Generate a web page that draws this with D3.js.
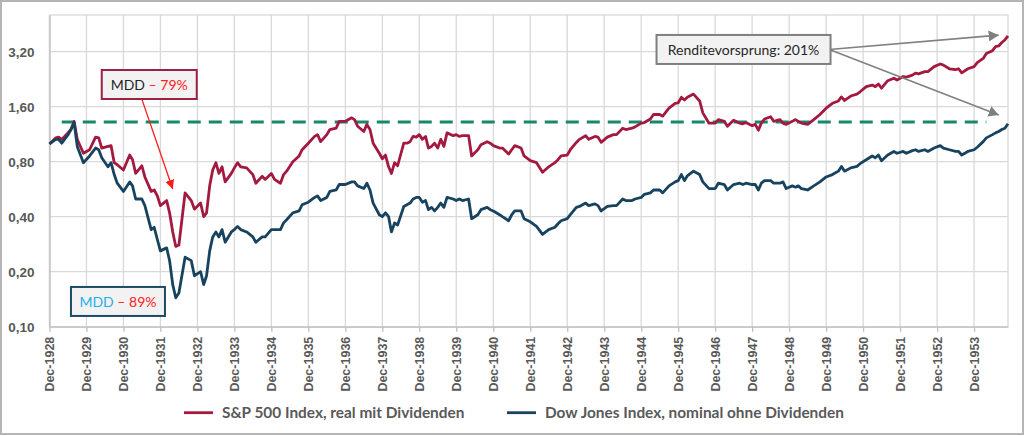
<!DOCTYPE html>
<html>
<head>
<meta charset="utf-8">
<script src="https://cdn.jsdelivr.net/npm/d3@7"></script>
<style>
	body { margin: 0; background: #fff; }
	svg { font-family: Lato, "Open Sans", sans-serif; }
</style>
</head>
<body>
<svg id="chart"></svg>
<script>
// Chart size
const width = 1024;
const height = 436;
const margin = {top: 15, right: 16, bottom: 109.3, left: 49.5};

// Months counted from Dec 1928 (x categories of the sampled points)
const monthOffsets = [
	0, 2, 3, 4, 6, 7, 8, 9, 11, 13,
	15, 16, 17, 19, 20, 21, 22, 24, 26, 27,
	28, 30, 31, 33, 34, 35, 36, 38, 39, 40,
	41, 42, 44, 46, 47, 49, 50, 51, 52, 53,
	54, 55, 56, 57, 59, 60, 61, 62, 64, 66,
	67, 69, 70, 72, 73, 75, 76, 77, 79, 81,
	82, 84, 86, 87, 88, 90, 91, 93, 94, 96,
	98, 99, 100, 102, 103, 104, 105, 107, 108, 109,
	110, 111, 112, 113, 115, 116, 117, 118, 119, 120,
	121, 122, 123, 124, 125, 126, 127, 128, 129, 131,
	132, 133, 134, 136, 137, 139, 140, 142, 143, 144,
	146, 147, 149, 150, 151, 153, 154, 156, 158, 160,
	162, 164, 165, 166, 168, 169, 171, 172, 174, 175,
	177, 178, 179, 181, 183, 184, 186, 187, 189, 190,
	192, 193, 195, 196, 198, 199, 201, 203, 204, 205,
	206, 207, 209, 211, 212, 214, 216, 217, 219, 220,
	222, 224, 225, 226, 228, 229, 230, 231, 232, 234,
	235, 237, 238, 239, 241, 242, 243, 244, 246, 248,
	250, 252, 254, 256, 257, 258, 260, 262, 263, 265,
	267, 268, 269, 270, 272, 274, 275, 277, 278, 280,
	281, 282, 284, 285, 287, 289, 290, 292, 294, 295,
	296, 298, 300, 301, 303, 304, 306, 307, 308, 309,
	310, 311
];

// S&P 500, real with dividends (Dec 1928 = 1)
const spValues = [
	1.00, 1.08, 1.09, 1.06, 1.15, 1.20, 1.33, 1.06, 0.89, 0.93,
	1.09, 1.08, 0.95, 0.97, 0.98, 0.79, 0.77, 0.72, 0.87, 0.82,
	0.69, 0.76, 0.66, 0.55, 0.56, 0.52, 0.46, 0.49, 0.42, 0.33,
	0.275, 0.28, 0.54, 0.49, 0.44, 0.475, 0.40, 0.42, 0.59, 0.72,
	0.79, 0.69, 0.75, 0.62, 0.69, 0.74, 0.79, 0.75, 0.74, 0.68,
	0.61, 0.665, 0.64, 0.69, 0.64, 0.61, 0.68, 0.71, 0.80, 0.86,
	0.93, 1.01, 1.10, 1.125, 1.03, 1.125, 1.20, 1.22, 1.33, 1.33,
	1.39, 1.36, 1.25, 1.17, 1.28, 1.20, 1.01, 0.89, 0.83, 0.87,
	0.75, 0.69, 0.79, 0.76, 1.01, 1.01, 1.03, 1.10, 1.09, 1.125,
	1.06, 1.10, 0.95, 0.97, 1.01, 0.95, 1.06, 0.97, 1.15, 1.11,
	1.125, 1.10, 1.11, 1.11, 0.86, 0.93, 0.99, 1.03, 1.01, 0.98,
	0.95, 0.95, 0.88, 0.93, 0.98, 0.95, 0.86, 0.81, 0.79, 0.70,
	0.75, 0.79, 0.82, 0.86, 0.87, 0.93, 1.02, 1.06, 1.11, 1.06,
	1.10, 1.09, 1.02, 1.09, 1.125, 1.125, 1.22, 1.20, 1.22, 1.24,
	1.30, 1.31, 1.37, 1.45, 1.45, 1.42, 1.57, 1.67, 1.68, 1.80,
	1.74, 1.80, 1.875, 1.72, 1.48, 1.30, 1.30, 1.36, 1.33, 1.25,
	1.35, 1.30, 1.29, 1.31, 1.26, 1.28, 1.19, 1.30, 1.37, 1.41,
	1.33, 1.36, 1.30, 1.28, 1.33, 1.36, 1.33, 1.30, 1.28, 1.36,
	1.45, 1.57, 1.67, 1.72, 1.81, 1.73, 1.83, 1.875, 1.93, 2.06,
	2.10, 2.06, 2.13, 2.02, 2.22, 2.29, 2.24, 2.34, 2.32, 2.38,
	2.44, 2.42, 2.49, 2.49, 2.65, 2.74, 2.70, 2.58, 2.55, 2.58,
	2.45, 2.58, 2.65, 2.79, 2.94, 3.13, 3.24, 3.41, 3.44, 3.59,
	3.71, 3.90
];

// Dow Jones, nominal without dividends (Dec 1928 = 1)
const djValues = [
	1.00, 1.06, 1.06, 1.01, 1.12, 1.20, 1.31, 0.97, 0.79, 0.86,
	0.95, 0.93, 0.84, 0.75, 0.79, 0.68, 0.61, 0.55, 0.62, 0.59,
	0.50, 0.50, 0.46, 0.34, 0.35, 0.30, 0.26, 0.27, 0.23, 0.17,
	0.144, 0.153, 0.24, 0.23, 0.19, 0.20, 0.17, 0.19, 0.26, 0.31,
	0.33, 0.31, 0.34, 0.29, 0.33, 0.34, 0.354, 0.34, 0.33, 0.31,
	0.29, 0.31, 0.31, 0.34, 0.34, 0.34, 0.37, 0.385, 0.42, 0.43,
	0.465, 0.48, 0.51, 0.52, 0.49, 0.51, 0.55, 0.56, 0.60, 0.60,
	0.62, 0.62, 0.59, 0.57, 0.61, 0.56, 0.475, 0.41, 0.40, 0.42,
	0.40, 0.33, 0.37, 0.36, 0.455, 0.465, 0.475, 0.50, 0.51, 0.51,
	0.48, 0.49, 0.437, 0.45, 0.43, 0.45, 0.475, 0.45, 0.51, 0.50,
	0.49, 0.50, 0.49, 0.50, 0.39, 0.41, 0.437, 0.45, 0.437, 0.43,
	0.41, 0.40, 0.38, 0.41, 0.43, 0.43, 0.39, 0.375, 0.354, 0.32,
	0.34, 0.35, 0.366, 0.38, 0.39, 0.41, 0.45, 0.455, 0.475, 0.46,
	0.47, 0.46, 0.43, 0.455, 0.46, 0.46, 0.50, 0.49, 0.49, 0.50,
	0.51, 0.53, 0.54, 0.56, 0.56, 0.54, 0.59, 0.62, 0.63, 0.68,
	0.63, 0.67, 0.71, 0.68, 0.62, 0.57, 0.57, 0.61, 0.60, 0.56,
	0.60, 0.61, 0.60, 0.61, 0.60, 0.60, 0.56, 0.61, 0.63, 0.63,
	0.61, 0.61, 0.62, 0.57, 0.59, 0.58, 0.59, 0.57, 0.56, 0.59,
	0.62, 0.66, 0.68, 0.71, 0.754, 0.71, 0.74, 0.754, 0.78, 0.82,
	0.86, 0.84, 0.87, 0.81, 0.87, 0.91, 0.89, 0.91, 0.89, 0.92,
	0.93, 0.91, 0.93, 0.91, 0.95, 0.98, 0.95, 0.93, 0.91, 0.91,
	0.87, 0.91, 0.93, 0.96, 1.03, 1.08, 1.125, 1.15, 1.17, 1.20,
	1.22, 1.29
];

// Axis ticks
const yTicks = [0.10, 0.20, 0.40, 0.80, 1.60, 3.20];
const xTickYears = d3.range(1928, 1954);

// Previous peak level (dashed line)
const peakLevel = 1.32;
const peakFrom = 4;
const peakTo = 304;

const seriesNames = ["S&P 500 Index, real mit Dividenden", "Dow Jones Index, nominal ohne Dividenden"];
const seriesColors = ["#a3193f", "#17435f"];

const toDate = m => new Date(1928, 11 + m, 1);
const dates = monthOffsets.map(toDate);

const svg = d3.select("#chart")
	.attr("width", width)
	.attr("height", height);

// Outer frame
svg.append("rect")
	.attr("x", 1).attr("y", 1)
	.attr("width", width - 2).attr("height", height - 3)
	.attr("fill", "#fff")
	.attr("stroke", "#b4b4b4")
	.attr("stroke-width", 2);

const x = d3.scaleTime()
	.domain([toDate(0), toDate(311)])
	.range([margin.left, width - margin.right]);

const y = d3.scaleLog()
	.base(2)
	.domain([0.1, 5.08])
	.range([height - margin.bottom, margin.top]);

const xTicks = xTickYears.map(yr => new Date(yr, 11, 1));

// Grid
const grid = svg.append("g").attr("stroke", "#d9d9d9").attr("stroke-width", 1.3);
grid.selectAll(".hg")
	.data(yTicks)
	.enter().append("line")
	.attr("x1", margin.left).attr("x2", width - margin.right)
	.attr("y1", d => y(d)).attr("y2", d => y(d));
grid.selectAll(".vg")
	.data(xTicks)
	.enter().append("line")
	.attr("x1", d => x(d)).attr("x2", d => x(d))
	.attr("y1", margin.top).attr("y2", height - margin.bottom);
grid.append("rect")
	.attr("x", margin.left).attr("y", margin.top)
	.attr("width", width - margin.right - margin.left)
	.attr("height", height - margin.bottom - margin.top)
	.attr("fill", "none");

// Axes
const comma = d3.formatLocale({decimal: ",", thousands: ".", grouping: [3], currency: ["", "€"]}).format(".2f");

const yAxis = svg.append("g")
	.attr("transform", `translate(${margin.left},0)`)
	.call(d3.axisLeft(y).tickValues(yTicks).tickFormat(comma).tickSize(0).tickPadding(15));
yAxis.select(".domain").attr("stroke", "#bfbfbf").attr("stroke-width", 1.3);
yAxis.selectAll("text")
	.attr("fill", "#595959")
	.style("font-size", "13.5px")
	.style("font-weight", "bold");

const xAxis = svg.append("g")
	.attr("transform", `translate(0,${height - margin.bottom})`)
	.call(d3.axisBottom(x).tickValues(xTicks).tickFormat(d3.timeFormat("Dec-%Y")).tickSize(5).tickSizeOuter(0));
xAxis.select(".domain").attr("stroke", "#bfbfbf").attr("stroke-width", 1.3);
xAxis.selectAll(".tick line").attr("stroke", "#bfbfbf").attr("stroke-width", 1.3);
xAxis.selectAll("text")
	.attr("transform", "rotate(-90)")
	.attr("text-anchor", "end")
	.attr("x", -10)
	.attr("y", 0)
	.attr("dy", "0.35em")
	.attr("fill", "#595959")
	.style("font-size", "12.5px")
	.style("font-weight", "bold");

// Dashed previous peak
svg.append("line")
	.attr("x1", x(toDate(peakFrom))).attr("x2", x(toDate(peakTo)))
	.attr("y1", y(peakLevel)).attr("y2", y(peakLevel))
	.attr("stroke", "#17886b")
	.attr("stroke-width", 3)
	.attr("stroke-dasharray", "13,8");

// Series lines
const line = d3.line()
	.x((d, i) => x(dates[i]))
	.y(d => y(d));

[spValues, djValues].forEach((vals, i) => {
	svg.append("path")
		.datum(vals)
		.attr("fill", "none")
		.attr("stroke", seriesColors[i])
		.attr("stroke-width", 2.8)
		.attr("stroke-linejoin", "round")
		.attr("d", line);
});

// Arrow markers
const defs = svg.append("defs");
defs.append("marker")
	.attr("id", "redHead")
	.attr("markerUnits", "userSpaceOnUse")
	.attr("viewBox", "0 0 10 10")
	.attr("refX", 10).attr("refY", 5)
	.attr("markerWidth", 9).attr("markerHeight", 9)
	.attr("orient", "auto")
	.append("path").attr("d", "M0,0L10,5L0,10Z").attr("fill", "#ff1a1a");
defs.append("marker")
	.attr("id", "grayHead")
	.attr("markerUnits", "userSpaceOnUse")
	.attr("viewBox", "0 0 10 10")
	.attr("refX", 10).attr("refY", 5)
	.attr("markerWidth", 10).attr("markerHeight", 11)
	.attr("orient", "auto")
	.attr("preserveAspectRatio", "none")
	.append("path").attr("d", "M0,0L10,5L0,10Z").attr("fill", "#808080");

// Arrows (data coordinates: month offset, value)
const arrows = [
	{from: [30, 1.76], to: [40.4, 0.567], color: "#ff1a1a", w: 1.3, head: "redHead"},
	{from: [253.9, 3.29], to: [308.1, 3.94], color: "#808080", w: 1.6, head: "grayHead"},
	{from: [253.9, 3.29], to: [308.1, 1.44], color: "#808080", w: 1.6, head: "grayHead"}
];
arrows.forEach(a => {
	svg.append("line")
		.attr("x1", x(toDate(a.from[0]))).attr("y1", y(a.from[1]))
		.attr("x2", x(toDate(a.to[0]))).attr("y2", y(a.to[1]))
		.attr("stroke", a.color)
		.attr("stroke-width", a.w)
		.attr("marker-end", `url(#${a.head})`);
});

// Annotation boxes
const boxes = [
	{at: [17, 2.54], w: 95, h: 29, border: "#9b2242", parts: [["MDD", "#262626"], [" – 79%", "#ff2020"]]},
	{at: [7.3, 0.165], w: 94, h: 29, border: "#1c4b66", parts: [["MDD", "#1fb1ec"], [" – 89%", "#ff2020"]]},
	{at: [197.4, 3.95], w: 174, h: 29, border: "#7f7f7f", parts: [["Renditevorsprung: 201%", "#262626"]]}
];
boxes.forEach(b => {
	const bx = x(toDate(b.at[0]));
	const by = y(b.at[1]);
	svg.append("rect")
		.attr("x", bx).attr("y", by)
		.attr("width", b.w).attr("height", b.h)
		.attr("fill", "#f2f2f2")
		.attr("stroke", b.border)
		.attr("stroke-width", 2);
	const t = svg.append("text")
		.attr("x", bx + b.w / 2)
		.attr("y", by + b.h / 2)
		.attr("dy", "0.36em")
		.attr("text-anchor", "middle")
		.style("font-size", "14px");
	b.parts.forEach(p => t.append("tspan").attr("fill", p[1]).text(p[0]));
});

// Legend
const legendY = 412.7;
const legendX = [184, 507];
seriesNames.forEach((name, i) => {
	svg.append("line")
		.attr("x1", legendX[i]).attr("x2", legendX[i] + 29)
		.attr("y1", legendY).attr("y2", legendY)
		.attr("stroke", seriesColors[i])
		.attr("stroke-width", 2.8);
	svg.append("text")
		.attr("x", legendX[i] + 38)
		.attr("y", legendY)
		.attr("dy", "0.36em")
		.attr("fill", "#595959")
		.style("font-size", "15.4px")
		.style("font-weight", "bold")
		.text(name);
});
</script>
</body>
</html>
